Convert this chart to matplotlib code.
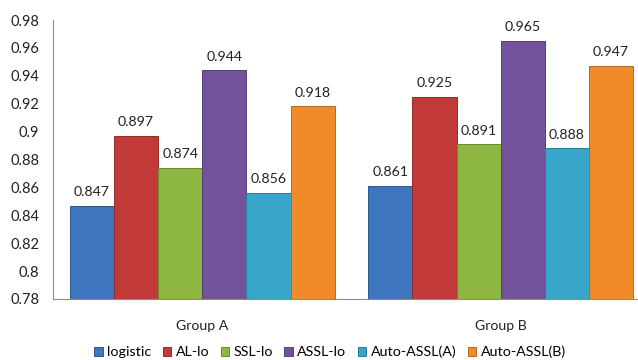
import numpy as np
import matplotlib
matplotlib.use("Agg")
import matplotlib.pyplot as plt
from matplotlib.colors import to_rgb

# ─── Data ─────────────────────────────────────────────────────────────────────

groups = ["Group A", "Group B"]
methods = ["logistic", "AL-lo", "SSL-lo", "ASSL-lo", "Auto-ASSL(A)", "Auto-ASSL(B)"]
group_a = [0.847, 0.897, 0.874, 0.944, 0.856, 0.918]
group_b = [0.861, 0.925, 0.891, 0.965, 0.888, 0.947]
y_ticks = [0.78, 0.8, 0.82, 0.84, 0.86, 0.88, 0.9, 0.92, 0.94, 0.96, 0.98]

colors = ["#3D76BE", "#C13A38", "#8DB740", "#71529B", "#37A6C8", "#F28A2A"]

plt.rcParams["font.family"] = ["Lato", "DejaVu Sans"]


def darker(c, f=0.75):
    r, g, b = to_rgb(c)
    return (r * f, g * f, b * f)


fig = plt.figure(figsize=(6.38, 3.6), dpi=100)
ax = fig.add_axes([53 / 638, 61 / 360, 585 / 638, 279 / 360])

x = np.arange(len(groups))
width = 0.148
values = np.array([group_a, group_b])

for i, m in enumerate(methods):
    pos = x + (i - 2.5) * width
    vals = values[:, i]
    ax.bar(pos, vals - 0.78, width, bottom=0.78, color=colors[i],
           edgecolor=darker(colors[i]), linewidth=0.7, label=m, zorder=2)
    for px, v in zip(pos, vals):
        ax.annotate(f"{v:.3f}", (px, v), xytext=(0, 5.5), textcoords="offset points",
                    ha="center", va="bottom", fontsize=10.2, color="#222222")

ax.set_ylim(0.78, 0.98)
ax.set_xlim(-0.5, 1.46)
ax.set_yticks(y_ticks)
ax.set_yticklabels([f"{t:g}" for t in y_ticks])
ax.set_xticks(x)
ax.set_xticklabels(groups)
ax.tick_params(axis="both", length=0, labelsize=10.5, colors="#222222")
ax.tick_params(axis="x", labelsize=10.2, pad=15)
ax.tick_params(axis="y", pad=10)

for s in ["top", "right"]:
    ax.spines[s].set_visible(False)
ax.spines["left"].set_color("#8C8C8C")
ax.spines["bottom"].set_color("#8C8C8C")

ax.legend(loc="center", bbox_to_anchor=(330 / 638, 8 / 360),
          bbox_transform=fig.transFigure, ncol=6, frameon=False,
          fontsize=10.3, handlelength=0.6, handleheight=0.6,
          handletextpad=0.3, columnspacing=0.8)

fig.savefig("out.png", dpi=100)
